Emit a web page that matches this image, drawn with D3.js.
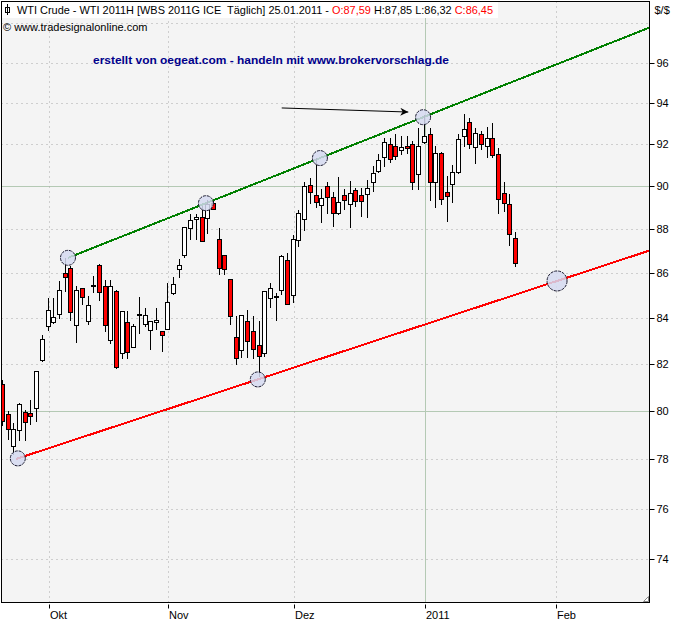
<!DOCTYPE html>
<html><head><meta charset="utf-8">
<script src="https://cdn.jsdelivr.net/npm/d3@7"></script>
<style>body{margin:0;background:#fff}svg{display:block}</style>
</head><body>
<svg id="c" width="680" height="620"></svg>
<script>
// ---- data (WTI 2011H, daily, 21.09.2010 - 25.01.2011) ----
const firstDay = "2010-09-21";
const lastDay = "2011-01-25";
const opens = [81.14,79.87,78.53,79.18,79.95,79.90,80.10,82.17,83.61,83.79,84.16,85.99,86.21,83.66,85.29,83.84,85.45,86.35,85.38,83.01,
  85.19,82.46,83.81,82.72,84.10,83.71,83.44,83.79,83.42,83.49,85.08,86.17,86.79,88.04,88.47,88.53,88.49,89.21,87.51,86.79,
  85.72,83.16,82.60,83.85,83.39,82.82,82.46,84.87,84.96,85.21,86.59,85.00,87.49,88.43,90.05,89.58,89.08,90.00,89.47,88.72,
  89.58,89.15,89.81,89.58,89.64,90.20,90.71,91.36,91.98,91.88,91.71,91.91,91.98,90.56,92.08,92.47,90.16,91.56,89.70,90.08,
  90.65,92.36,93.05,91.86,92.47,91.90,92.28,91.51,89.66,89.15,87.59];
const highs = [81.30,79.99,79.49,80.32,80.01,80.45,81.69,83.25,84.87,84.87,85.61,86.68,86.32,85.40,85.30,84.97,85.86,86.40,85.69,85.69,
  85.22,84.30,84.30,83.70,84.92,84.40,83.84,84.43,83.42,85.52,85.81,86.62,88.10,88.70,88.70,89.05,89.33,89.30,88.04,86.80,
  85.72,84.05,84.09,84.35,84.05,83.84,85.19,85.55,85.10,86.80,86.90,87.72,88.85,90.16,90.37,91.33,89.84,90.17,89.73,90.44,
  89.84,90.24,89.89,89.92,90.27,90.95,91.51,92.28,92.28,92.47,92.36,92.36,92.13,92.78,93.41,92.78,91.91,91.60,90.47,91.00,
  92.47,93.43,93.25,92.78,92.63,92.83,92.99,91.81,90.17,89.63,87.85];
const lows = [79.40,78.83,78.20,78.77,78.77,79.43,79.55,82.10,83.47,83.78,83.96,85.17,83.87,82.92,84.60,83.70,85.15,84.77,83.40,82.87,
  81.80,82.25,82.25,82.70,83.30,83.64,82.63,83.51,82.53,83.49,85.04,85.79,86.70,87.51,87.54,87.43,87.80,88.93,85.93,85.93,
  83.72,81.98,82.28,82.26,82.24,81.45,82.32,84.45,83.91,85.05,84.60,84.70,87.22,87.95,89.21,89.03,88.29,88.72,88.14,88.70,
  88.90,88.06,89.05,88.57,88.55,89.78,90.65,90.96,91.15,91.28,91.53,91.56,89.84,89.84,92.05,89.34,89.03,89.15,88.38,89.22,
  90.60,91.88,91.81,91.10,91.76,91.38,91.38,88.75,88.84,87.27,86.32];
const closes = [79.55,79.24,79.24,80.28,79.53,79.76,81.69,83.07,84.34,84.03,85.24,85.81,84.25,85.24,84.93,84.56,85.43,85.15,83.66,85.38,
  81.86,84.30,82.50,83.64,84.14,84.12,83.84,83.90,83.22,84.69,85.50,86.35,88.08,88.41,88.56,87.43,89.15,88.93,86.21,86.17,
  84.05,82.22,84.09,82.99,82.61,82.34,85.19,85.30,84.94,86.74,84.60,87.54,88.71,90.00,89.70,89.24,89.43,89.47,88.72,89.24,
  89.34,89.66,89.30,89.30,89.89,90.62,91.22,92.08,91.28,91.40,91.84,91.79,90.20,91.91,92.39,90.20,91.56,89.40,89.54,90.65,
  92.24,92.73,92.00,92.53,92.00,92.28,91.46,89.37,89.18,87.76,86.45];
const monthLabels = ["Okt","Nov","Dez","2011","Feb"];
const monthDates  = ["2010-10-01","2010-11-01","2010-12-01","2011-01-03","2011-02-01"];
const solidMonth  = ["2011"];
const gridPrices  = [74,76,78,80,82,84,86,88,90,92,94,96,98];
const solidPrices = [80,90];
const tickPrices  = [74,76,78,80,82,84,86,88,90,92,94,96];
// trend lines: two anchor points each (bar index, price)
const greenIdx = [11.4, 113.3], greenPx = [86.67, 97.77];
const redIdx   = [2.3, 113.3],  redPx   = [78.0, 86.99];
// touch markers (bar index) on each line
const greenTouch = [11.4, 35.6, 55.6, 73.7];
const redTouch   = [2.6, 44.7];
const redTarget  = [97.2];
// arrow (bar index, price)
const arrowIdx = [48.9, 71.1], arrowPx = [93.75, 93.55];
const headerParts = [
  ["WTI Crude - WTI 2011H [WBS 2011G ICE  Täglich] 25.01.2011 - ", "#000"],
  ["O:87,59", "#f00"], [" H:87,85 L:86,32 ", "#000"], ["C:86,45", "#f00"]];
const copyright = "© www.tradesignalonline.com";
const note = "erstellt von oegeat.com - handeln mit www.brokervorschlag.de";
const unit = "$/$";

// ---- layout ----
const P = {l:1.5, t:1.5, r:649.5, b:602.5};
const svg = d3.select("#c");
const parse = d3.timeParse("%Y-%m-%d");
const dates = d3.timeDays(parse(firstDay), d3.timeDay.offset(parse(lastDay),1)).filter(d => d.getDay()%6 !== 0);
function idxOf(s){
  const d = parse(s); const i = dates.findIndex(t => +t === +d);
  if (i >= 0) return i;
  return dates.length-1 + d3.timeDay.count(dates[dates.length-1], d);
}
const x = d3.scaleLinear().domain([0, dates.length-1]).range([3, 516]);
const y = d3.scaleLog().domain([74, 96]).range([559.4, 62.7]);

svg.append("rect").attr("width",680).attr("height",620).attr("fill","#fff");
svg.append("defs").append("clipPath").attr("id","pc").append("rect")
  .attr("x",P.l+0.5).attr("y",P.t+0.5).attr("width",P.r-P.l-1).attr("height",P.b-P.t-1);
svg.append("rect").attr("x",P.l).attr("y",P.t).attr("width",P.r-P.l).attr("height",P.b-P.t)
  .attr("fill","#f4f4f4");

const g = svg.append("g").attr("clip-path","url(#pc)");
// grid
g.selectAll("line.hg").data(gridPrices).join("line")
  .attr("x1",P.l).attr("x2",P.r)
  .attr("y1",d=>Math.round(y(d))+0.5).attr("y2",d=>Math.round(y(d))+0.5)
  .attr("stroke",d=>solidPrices.includes(d)?"#b4c9b4":"#a8a8a8")
  .attr("stroke-dasharray",d=>solidPrices.includes(d)?null:"1,4");
g.selectAll("line.vg").data(monthLabels).join("line")
  .attr("x1",(d,i)=>Math.round(x(idxOf(monthDates[i])))+0.5).attr("x2",(d,i)=>Math.round(x(idxOf(monthDates[i])))+0.5)
  .attr("y1",P.t).attr("y2",P.b)
  .attr("stroke",d=>solidMonth.includes(d)?"#b4c9b4":"#a8a8a8")
  .attr("stroke-dasharray",d=>solidMonth.includes(d)?null:"1,4");

// header background box
svg.append("rect").attr("x",2).attr("y",2).attr("width",496).attr("height",16).attr("fill","#fff");

// trend lines
function lineThrough(ix, px, color){
  const x1 = x(ix[0]), y1 = y(px[0]), x2 = x(ix[1]), y2 = y(px[1]);
  const s = (y2-y1)/(x2-x1);
  g.append("line").attr("x1",x1).attr("y1",y1).attr("x2",P.r).attr("y2",y1+s*(P.r-x1))
    .attr("stroke",color).attr("stroke-width",2).attr("shape-rendering","crispEdges");
  return xx => y1 + s*(xx-x1);
}
const gL = lineThrough(greenIdx, greenPx, "#008000");
const rL = lineThrough(redIdx, redPx, "#ff0000");

// candles
const cg = g.append("g").attr("shape-rendering","crispEdges");
const idx = d3.range(opens.length);
cg.selectAll("line.w").data(idx).join("line")
  .attr("x1",i=>Math.round(x(i))-0.5).attr("x2",i=>Math.round(x(i))-0.5)
  .attr("y1",i=>Math.round(y(highs[i]))).attr("y2",i=>Math.round(y(lows[i]))+1)
  .attr("stroke","#000");
cg.selectAll("rect.b").data(idx).join("rect")
  .attr("x",i=>Math.round(x(i))-2.5).attr("width",4)
  .attr("y",i=>Math.round(y(Math.max(opens[i],closes[i])))+0.5)
  .attr("height",i=>Math.max(1,Math.round(y(Math.min(opens[i],closes[i])))-Math.round(y(Math.max(opens[i],closes[i])))))
  .attr("fill",i=>closes[i]>=opens[i]?"#fff":"#ff0000")
  .attr("stroke","#000").attr("stroke-width",1);

// touch markers
function marker(ix, fn, r){
  g.selectAll(null).data(ix).join("circle")
    .attr("cx",d=>x(d)).attr("cy",d=>fn(x(d))).attr("r",r)
    .attr("fill","#d5d9f0").attr("fill-opacity",0.85).attr("stroke","#1a1a30").attr("stroke-width",1)
    .attr("stroke-dasharray","3,1");
}
marker(greenTouch, gL, 7.5);
marker(redTouch, rL, 7.5);
marker(redTarget, rL, 10);

// arrow
const defs = svg.select("defs");
defs.append("marker").attr("id","ah").attr("viewBox","0 0 10 10").attr("refX",10).attr("refY",5)
  .attr("markerWidth",13).attr("markerHeight",8).attr("markerUnits","userSpaceOnUse").attr("orient","auto")
  .append("path").attr("d","M0,0L10,5L0,10L3,5Z").attr("fill","#000");
g.append("line").attr("x1",x(arrowIdx[0])).attr("y1",y(arrowPx[0])).attr("x2",x(arrowIdx[1])).attr("y2",y(arrowPx[1]))
  .attr("stroke","#000").attr("stroke-width",1).attr("marker-end","url(#ah)");

// frame
svg.append("rect").attr("x",P.l).attr("y",P.t).attr("width",P.r-P.l).attr("height",P.b-P.t)
  .attr("fill","none").attr("stroke","#000").attr("shape-rendering","crispEdges");
// resize glyph
svg.append("path").attr("d",`M${P.r-6},${P.b-1}L${P.r-1},${P.b-6}L${P.r-1},${P.b-1}Z`).attr("fill","#fff").attr("stroke","#888");

// right axis
const ax = svg.append("g").attr("font-family","'Liberation Sans', Arial, sans-serif").attr("font-size",11);
ax.selectAll("line").data(tickPrices).join("line")
  .attr("x1",P.r).attr("x2",P.r+5).attr("y1",d=>Math.round(y(d))+0.5).attr("y2",d=>Math.round(y(d))+0.5)
  .attr("stroke","#000");
ax.selectAll("text").data(tickPrices).join("text")
  .attr("x",P.r+7).attr("y",d=>y(d)+4).text(d=>d);
ax.append("text").attr("x",P.r+5).attr("y",14).text(unit);
// bottom axis
const bx = svg.append("g").attr("font-family","'Liberation Sans', Arial, sans-serif").attr("font-size",11);
bx.selectAll("line").data(monthLabels).join("line")
  .attr("x1",(d,i)=>Math.round(x(idxOf(monthDates[i])))+0.5).attr("x2",(d,i)=>Math.round(x(idxOf(monthDates[i])))+0.5)
  .attr("y1",P.b+2).attr("y2",P.b+6).attr("stroke","#000");
bx.selectAll("text").data(monthLabels).join("text")
  .attr("x",(d,i)=>Math.round(x(idxOf(monthDates[i])))+1).attr("y",P.b+16).text(d=>d);

// header
const ht = svg.append("text").attr("x",17).attr("y",14).attr("font-family","'Liberation Sans', Arial, sans-serif")
  .attr("font-size",11).attr("xml:space","preserve").style("white-space","pre")
  .attr("textLength",476).attr("lengthAdjust","spacingAndGlyphs");
headerParts.forEach(p => ht.append("tspan").attr("fill",p[1]).text(p[0]));
// header icon
svg.append("path").attr("d","M7.5,4V15M5.5,7.5h4v5h-4Z").attr("fill","#fff").attr("stroke","#000").attr("shape-rendering","crispEdges");
svg.append("text").attr("x",3).attr("y",31).attr("font-family","'Liberation Sans', Arial, sans-serif")
  .attr("font-size",11).text(copyright);
svg.append("text").attr("x",93).attr("y",64).attr("font-family","'Liberation Sans', Arial, sans-serif")
  .attr("font-size",11.5).attr("font-weight","bold").attr("fill","#00008b")
  .attr("textLength",356).attr("lengthAdjust","spacingAndGlyphs").text(note);
</script>
</body></html>
